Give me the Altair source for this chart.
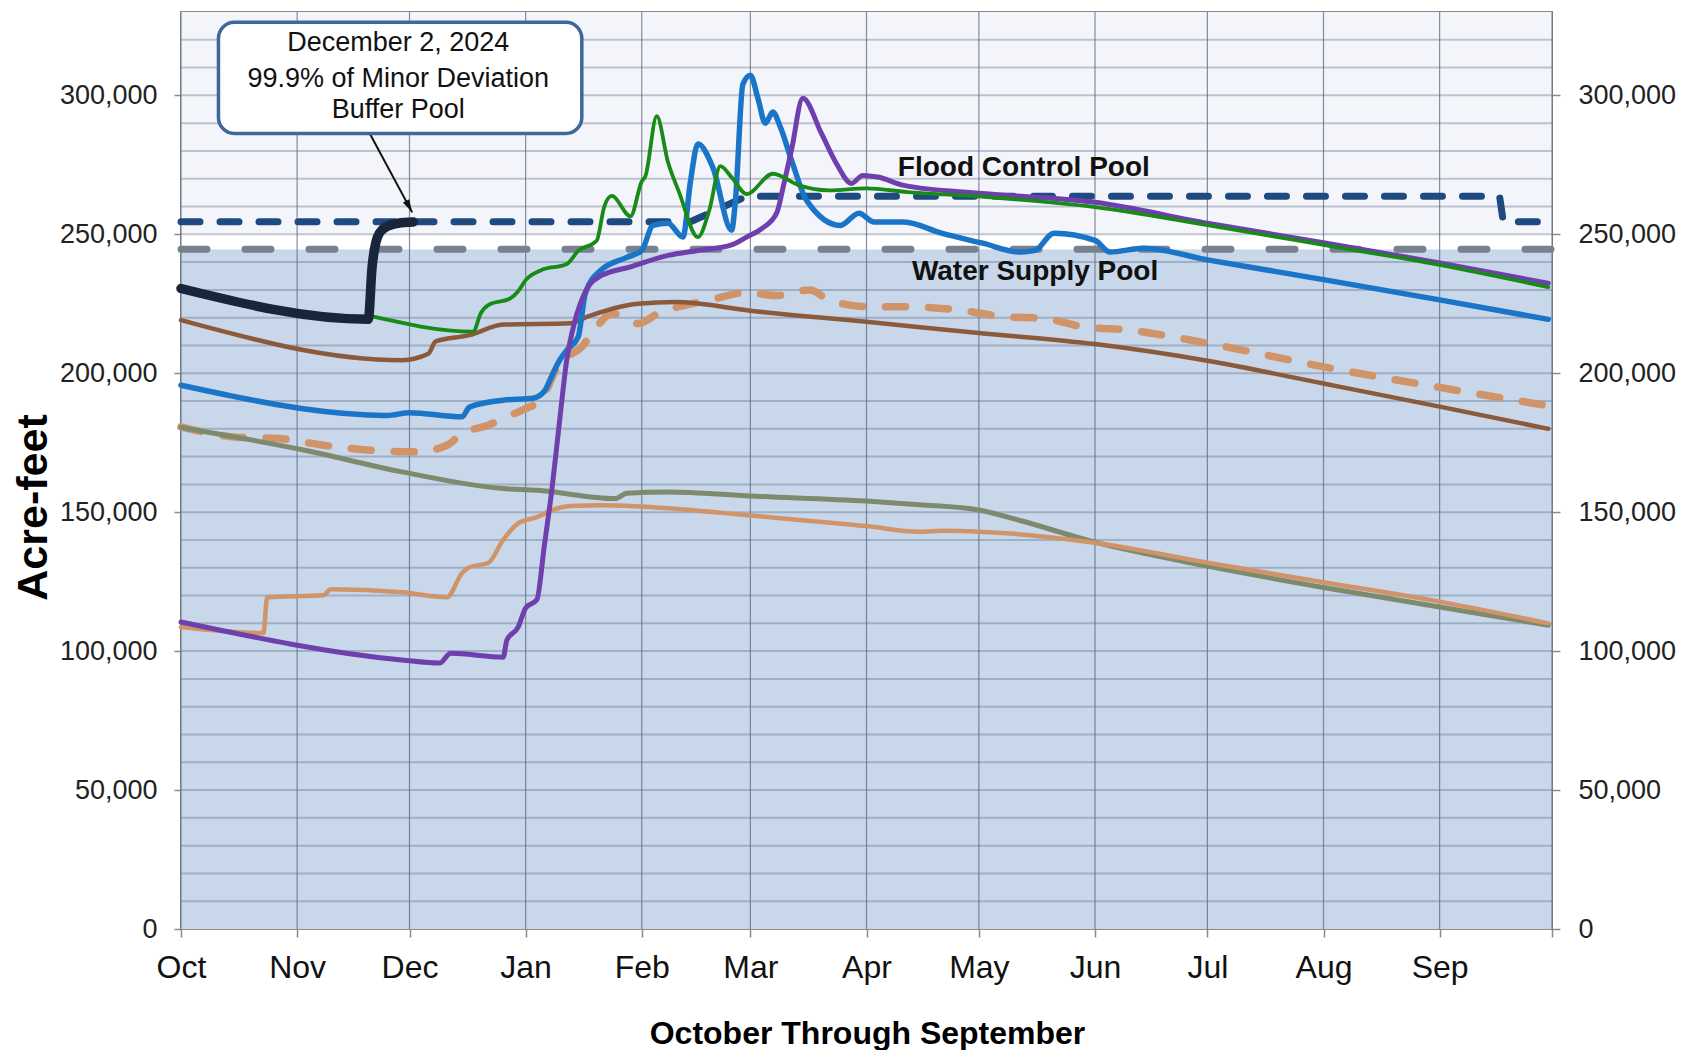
import altair as alt
import pandas as pd

# ------------------------------------------------------------------ data
# water-year calendar (Oct 1 .. Sep 30); values in acre-feet
black_dates = ["2023-10-01", "2023-11-20", "2023-11-21", "2023-11-22", "2023-11-23",
               "2023-11-25", "2023-11-28", "2023-12-02"]
black_values = [230500, 219400, 238000, 247000, 250500, 252800, 254000, 254400]

green_dates = ["2023-11-20", "2023-12-18", "2023-12-20", "2023-12-22", "2023-12-28",
               "2023-12-30", "2024-01-01", "2024-01-05", "2024-01-12", "2024-01-15",
               "2024-01-20", "2024-01-22", "2024-01-24", "2024-01-29", "2024-02-01",
               "2024-02-02", "2024-02-05", "2024-02-08", "2024-02-11", "2024-02-16",
               "2024-02-19", "2024-02-22", "2024-02-25", "2024-02-29", "2024-03-07",
               "2024-03-14", "2024-03-22", "2024-04-01", "2024-04-12", "2024-05-03",
               "2024-06-01", "2024-07-01", "2024-08-01", "2024-09-01", "2024-09-30"]
green_values = [220800, 215000, 221500, 224500, 227000, 229500, 233500, 237000, 239300, 244000,
                247800, 260000, 263800, 256500, 269000, 271000, 292500, 276000, 265000, 249000,
                258500, 274500, 270500, 264500, 271800, 267600, 265800, 266500, 265200, 263400,
                259800, 253300, 246200, 239000, 231000]

blue_dates = ["2023-10-01", "2023-11-20", "2023-11-25", "2023-12-01", "2023-12-15",
              "2023-12-17", "2023-12-26", "2024-01-03", "2024-01-06", "2024-01-08",
              "2024-01-10", "2024-01-12", "2024-01-15", "2024-01-17", "2024-01-21",
              "2024-01-28", "2024-02-01", "2024-02-04", "2024-02-08", "2024-02-12",
              "2024-02-14", "2024-02-16", "2024-02-20", "2024-02-25", "2024-02-26",
              "2024-02-28", "2024-03-01", "2024-03-03", "2024-03-05", "2024-03-07",
              "2024-03-09", "2024-03-12", "2024-03-16", "2024-03-25", "2024-03-30",
              "2024-04-03", "2024-04-11", "2024-04-21", "2024-05-02", "2024-05-12",
              "2024-05-16", "2024-05-21", "2024-06-01", "2024-06-05", "2024-06-14",
              "2024-07-01", "2024-08-01", "2024-09-01", "2024-09-30"]
blue_values = [195700, 185000, 184800, 185800, 184300, 187800, 190300, 191000, 193500, 199000,
               204500, 208300, 213000, 229000, 237000, 241700, 244200, 253200, 254000, 249000,
               269000, 282500, 274000, 251500, 262000, 304000, 307200, 299000, 290000, 294000,
               288600, 276600, 262200, 253200, 257600, 254400, 254400, 250400, 246800, 243600,
               244200, 250400, 247800, 243600, 245000, 240800, 233700, 226400, 219400]

purple_dates = ["2023-10-01", "2023-11-29", "2023-12-09", "2023-12-12", "2023-12-26",
                "2023-12-27", "2023-12-30", "2024-01-01", "2024-01-04", "2024-01-06",
                "2024-01-08", "2024-01-10", "2024-01-12", "2024-01-14", "2024-01-17",
                "2024-01-21", "2024-01-29", "2024-02-08", "2024-02-16", "2024-02-25",
                "2024-02-29", "2024-03-04", "2024-03-08", "2024-03-10", "2024-03-12",
                "2024-03-15", "2024-03-20", "2024-03-24", "2024-03-28", "2024-03-31",
                "2024-04-04", "2024-04-11", "2024-05-02", "2024-06-01", "2024-07-01",
                "2024-08-01", "2024-09-01", "2024-09-30"]
purple_values = [110500, 96800, 95700, 99200, 97800, 104000, 108600, 115500, 118500, 138000,
                 158000, 182000, 205000, 218000, 229500, 235000, 238300, 242400, 244200, 246200,
                 249000, 252000, 257600, 268500, 280500, 299000, 286200, 275400, 268300, 271200,
                 270600, 267600, 264700, 261500, 254000, 247000, 239700, 232400]

orange_dates = ["2023-10-01", "2023-10-23", "2023-10-24", "2023-11-08", "2023-11-10",
                "2023-11-29", "2023-12-11", "2023-12-15", "2023-12-17", "2023-12-22",
                "2023-12-26", "2023-12-30", "2024-01-04", "2024-01-08", "2024-01-13",
                "2024-01-22", "2024-02-08", "2024-03-01", "2024-04-01", "2024-04-15",
                "2024-04-22", "2024-05-01", "2024-06-01", "2024-07-01", "2024-08-01",
                "2024-09-01", "2024-09-30"]
orange_values = [108700, 106500, 119400, 120100, 122300, 121200, 119400, 128000, 130200, 131700,
                 140000, 146000, 148200, 150700, 152200, 152500, 151400, 148800, 145000, 143000,
                 143300, 143000, 139000, 131800, 124800, 117800, 110000]

gray_dates = ["2023-10-01", "2023-11-03", "2023-11-29", "2023-12-26", "2024-01-04",
              "2024-01-25", "2024-01-28", "2024-02-08", "2024-03-01", "2024-04-01",
              "2024-04-15", "2024-05-01", "2024-05-12", "2024-06-01", "2024-07-01",
              "2024-08-01", "2024-09-01", "2024-09-30"]
gray_values = [180500, 172300, 164500, 158500, 157900, 154900, 156800, 157300, 155800, 154000,
               152700, 150800, 147000, 139200, 130600, 122900, 115900, 109300]

dashed_dates = ["2023-10-01", "2023-10-16", "2023-10-27", "2023-11-08", "2023-11-21",
                "2023-12-03", "2023-12-11", "2023-12-15", "2023-12-22", "2023-12-27",
                "2024-01-01", "2024-01-05", "2024-01-10", "2024-01-16", "2024-01-20",
                "2024-01-24", "2024-01-31", "2024-02-06", "2024-02-11", "2024-02-19",
                "2024-02-29", "2024-03-08", "2024-03-17", "2024-03-22", "2024-04-02",
                "2024-04-12", "2024-04-26", "2024-05-08", "2024-05-18", "2024-05-29",
                "2024-06-10", "2024-07-01", "2024-08-01", "2024-09-01", "2024-09-30"]
dashed_values = [180700, 177000, 176500, 174100, 172300, 171700, 174100, 178300, 181300, 184300,
                 187300, 190300, 203500, 209500, 216700, 221500, 217900, 222000, 224000, 226300,
                 229000, 228000, 230000, 226300, 223900, 223900, 222700, 220300, 219800, 216700,
                 215500, 210800, 202300, 194900, 188300]

brown_dates = ["2023-10-01", "2023-11-29", "2023-12-06", "2023-12-08", "2023-12-17",
               "2023-12-26", "2024-01-13", "2024-01-17", "2024-01-31", "2024-02-10",
               "2024-03-01", "2024-04-01", "2024-05-01", "2024-06-01", "2024-07-01",
               "2024-08-01", "2024-09-01", "2024-09-30"]
brown_values = [219100, 204700, 207000, 211500, 213700, 217500, 218000, 220100, 225000, 225600,
                222500, 218500, 214500, 210500, 204500, 196300, 188000, 180000]

flood_dates = ["2023-10-01", "2024-02-14", "2024-02-29", "2024-09-17", "2024-09-18", "2024-10-01"]
flood_values = [254500, 254500, 263700, 263700, 254500, 254500]

supply_dates = ["2023-10-01", "2024-10-01"]
supply_values = [244600, 244600]

# shaded pools: [low, high]
band_low = [0, 244600, 250000]
band_high = [244600, 250000, 330000]
band_color = ["#c8d7ea", "#ffffff", "#f3f5fa"]

month_starts = ["2023-10-01", "2023-11-01", "2023-12-01", "2024-01-01", "2024-02-01",
                "2024-03-01", "2024-04-01", "2024-05-01", "2024-06-01", "2024-07-01",
                "2024-08-01", "2024-09-01", "2024-10-01"]
grid_values = list(range(10000, 330000, 10000))
y_tick_values = [0, 50000, 100000, 150000, 200000, 250000, 300000]

note_lines = ["December 2, 2024", "99.9% of Minor Deviation", "Buffer Pool"]
note_line_values = [318700, 306000, 294600]
note_text_date = "2023-11-28"
note_box = {"x": "2023-10-11", "x2": "2024-01-16", "y": 326300, "y2": 286300}
arrow_dates = ["2023-11-20T05:00:00Z", "2023-12-01T17:00:00Z"]
arrow_values = [286700, 257900]

pool_labels = ["Flood Control Pool", "Water Supply Pool"]
pool_label_dates = ["2024-05-13", "2024-05-16"]
pool_label_values = [273700, 236300]

FONT = "Liberation Sans"

# ------------------------------------------------------------------ scales
X_SCALE = alt.Scale(type="utc", domain=[alt.DateTime(year=2023, month=10, date=1, utc=True),
                                        alt.DateTime(year=2024, month=10, date=1, utc=True)])
Y_SCALE = alt.Scale(domain=[0, 330000], nice=False, zero=True)


def X(field="date", axis=None):
    return alt.X(f"{field}:T", scale=X_SCALE, axis=axis)


def Y(field="value", axis=None):
    return alt.Y(f"{field}:Q", scale=Y_SCALE, axis=axis)


def series(dates, values):
    return pd.DataFrame({"date": dates, "value": values})


def line(dates, values, color, width, dash=None, cap="round", interp="monotone"):
    kw = dict(color=color, strokeWidth=width, strokeCap=cap, strokeJoin="round",
              interpolate=interp)
    if dash is not None:
        kw["strokeDash"] = dash
    return alt.Chart(series(dates, values)).mark_line(**kw).encode(x=X(), y=Y())


left_axis = alt.Axis(orient="left", values=y_tick_values, format=",d", grid=False, domain=False,
                     labelFont=FONT, labelFontSize=27, labelColor="#222222", labelPadding=17,
                     tickSize=7, tickColor="#8a8a8a", tickWidth=1.5,
                     title="Acre-feet", titleFont=FONT, titleFontSize=43, titleFontWeight="bold",
                     titleColor="#000000", titleAngle=270, titleAlign="center",
                     titleBaseline="middle", titleX=-148, titleY=495)
right_axis = alt.Axis(orient="right", values=y_tick_values, format=",d", grid=False, domain=False,
                      labelFont=FONT, labelFontSize=27, labelColor="#222222", labelPadding=18,
                      tickSize=8, tickColor="#8a8a8a", tickWidth=1.5, title=None)
x_axis = alt.Axis(orient="bottom",
                  values=[alt.DateTime(year=int(d[:4]), month=int(d[5:7]), date=1, utc=True)
                          for d in month_starts],
                  labelExpr="utcyear(datum.value) == 2024 && utcmonth(datum.value) == 9 ? '' : utcFormat(datum.value, '%b')",
                  labelFlush=False, labelOverlap=False, labelBound=False,
                  grid=False, domain=False, labelFont=FONT, labelFontSize=32, labelColor="#111111",
                  labelPadding=15, tickSize=8, tickColor="#8a8a8a", tickWidth=1.5,
                  title="October Through September", titleFont=FONT, titleFontSize=32,
                  titleFontWeight="bold", titleColor="#000000", titleX=686, titleY=104,
                  titleBaseline="middle", titleAlign="center")

# ------------------------------------------------------------------ layers
bands = alt.Chart(pd.DataFrame({"lo": band_low, "hi": band_high, "c": band_color})).mark_rect().encode(
    x=alt.datum(alt.DateTime(year=2023, month=10, date=1, utc=True), type="temporal",
                scale=X_SCALE, axis=None),
    x2=alt.datum(alt.DateTime(year=2024, month=10, date=1, utc=True)),
    y=alt.Y("lo:Q", scale=Y_SCALE, axis=right_axis),
    y2="hi:Q",
    color=alt.Color("c:N", scale=None),
)

hgrid = alt.Chart(pd.DataFrame({"value": grid_values})).mark_rule(
    color="#55657d", opacity=0.35, strokeWidth=2).encode(y=Y(axis=left_axis))

vgrid = alt.Chart(pd.DataFrame({"date": month_starts})).mark_rule(
    color="#5a6a80", opacity=0.75, strokeWidth=1.2).encode(x=X(axis=x_axis))

supply = line(supply_dates, supply_values, "#78828e", 7, dash=[26, 38], interp="linear")
flood = line(flood_dates, flood_values, "#1f4a80", 7, dash=[19, 20], interp="linear")

dashed = line(dashed_dates, dashed_values, "#d09468", 7.5, dash=[20, 23])
brown = line(brown_dates, brown_values, "#8a5a3b", 4.5)
gray = line(gray_dates, gray_values, "#7e8a6e", 5)
orange = line(orange_dates, orange_values, "#d09468", 4.5)
blue = line(blue_dates, blue_values, "#1a75c9", 5.5)
purple = line(purple_dates, purple_values, "#6f3fad", 5)
green = line(green_dates, green_values, "#178a17", 3.8)
black = line(black_dates, black_values, "#17263b", 9.5)

pool_text = alt.Chart(pd.DataFrame({"date": pool_label_dates, "value": pool_label_values,
                                    "t": pool_labels})).mark_text(
    font=FONT, fontSize=28, fontWeight="bold", color="#111111", align="center",
    baseline="middle").encode(x=X(), y=Y(), text="t:N")

box = alt.Chart(pd.DataFrame([note_box])).mark_rect(
    fill="white", stroke="#3f679c", strokeWidth=3.5, cornerRadius=16).encode(
    x=X("x"), x2="x2:T", y=Y("y"), y2="y2:Q")

note_text = alt.Chart(pd.DataFrame({"date": [note_text_date] * 3, "value": note_line_values,
                                    "t": note_lines})).mark_text(
    font=FONT, fontSize=27, color="#111111", align="center", baseline="middle").encode(
    x=X(), y=Y(), text="t:N")

arrow_line = line(arrow_dates, arrow_values, "#111111", 2, cap="butt", interp="linear")
arrow_head = alt.Chart(series(arrow_dates[1:], arrow_values[1:])).mark_point(
    shape="M0,0 L-0.55,-2 L0.55,-2 Z", filled=True, color="#111111", opacity=1,
    size=169, angle=332, strokeWidth=0).encode(x=X(), y=Y())

chart = alt.layer(
    bands, hgrid, vgrid, supply, flood,
    dashed, brown, gray, orange, blue, purple, green, black,
    pool_text, arrow_line, arrow_head, box, note_text,
).resolve_axis(x="independent", y="independent").properties(
    width=1371, height=917, autosize="none",
    padding={"left": 173, "top": 4, "right": 130, "bottom": 121},
).configure_view(stroke="#8a8a8a", strokeWidth=2)

chart.save("out.html", embed_options={"renderer": "svg", "actions": False})
